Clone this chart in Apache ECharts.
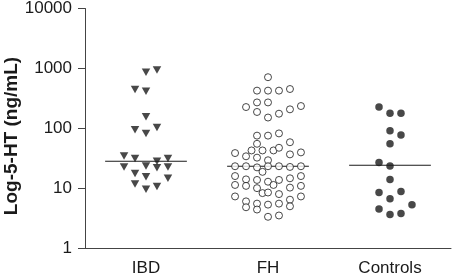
<!DOCTYPE html>
<html>
<head>
<meta charset="utf-8">
<script src="https://cdn.jsdelivr.net/npm/echarts@6/dist/echarts.min.js"></script>
<style>html,body{margin:0;padding:0;background:#fff}#c{width:453px;height:277px}</style>
</head>
<body>
<div id="c"></div>
<script>
// Categories and tick labels
const categories = ['IBD', 'FH', 'Controls'];
const yTicks = [1, 10, 100, 1000, 10000];

// Per-point values (ng/mL) and swarm slot (column)
const ibdValues = [861, 943, 442, 414, 155, 94, 82, 103, 34.3, 31.1, 28.1, 31.1, 22.6, 23.5, 21.8, 22.6, 17.6, 15.5, 14.6, 11.7, 9.6, 10.6];
const ibdSlots  = [0, 1, -1, 0, 0, -1, 0, 1, -2, -1, 1, 2, -2, 0, 1, 2, -1, 0, 2, -1, 0, 1];

const fhValues = [712,
  425, 425, 425, 452,
  226, 270, 187, 270, 151, 175, 207, 235,
  75.3, 75.3, 82,
  55, 58.4,
  38.5, 34, 42.6, 42.6, 42.6, 32.3, 47.2, 36.6, 39.5,
  29.2,
  23.2, 23.2, 22.2, 23.2, 23.2, 22.6, 23.2,
  18.7,
  15.9, 11.3, 14.0, 10.9, 13.7, 10.0, 12.8, 11.3, 13.7, 14.6, 10.2, 15.9, 10.9,
  8.26, 8.45,
  7.26, 6.01, 4.79, 5.51, 4.39, 5.30, 7.95, 5.51, 6.41, 4.97, 7.26,
  3.32, 3.49];
const fhSlots = [0,
  -1, 0, 1, 2,
  -2, -1, -1, 0, 0, 1, 2, 3,
  -1, 0, 1,
  -1, 2,
  -3, -2, -1.5, -0.5, 0.5, -1, 1, 2, 3,
  0,
  -3, -2, -1, 0, 1, 2, 3,
  -0.5,
  -3, -3, -2, -2, -1, -1, 0, 0.5, 1, 2, 2, 3, 3,
  -0.5, 0,
  -3, -2, -2, -1, -1, 0, 1, 1, 2, 2, 3,
  0, 1];

const ctrlValues = [226, 178, 178, 91, 77, 55, 26.7, 23.5, 14.0, 8.45, 8.78, 6.65, 4.5, 3.63, 3.77, 5.3];
const ctrlSlots  = [-1, 0, 1, 0, 1, 0, -1, 0, 0, -1, 1, 0, -1, 0, 1, 2];

// Medians
const medians = [28.1, 23.2, 24.1];

const SLOT = 0.09;      // swarm column width in category units
const HALF = 0.335;     // median line half width in category units

function pts(ci, vals, slots) {
  return vals.map((v, i) => [ci + slots[i] * SLOT, v]);
}

const FONT = 'Liberation Sans, Arial, sans-serif';
const INK = '#1a1a1a';

const chart = echarts.init(document.getElementById('c'), null, {renderer: 'canvas'});
const series = [];
medians.forEach((m, i) => {
  series.push({
    type: 'line', xAxisIndex: 1, yAxisIndex: 0, symbol: 'none', silent: true, z: 1,
    data: [[i - HALF, m], [i + HALF, m]],
    lineStyle: {color: INK, width: 1.2}
  });
});
series.push({
  type: 'scatter', xAxisIndex: 1, data: pts(0, ibdValues, ibdSlots), z: 3,
  symbol: 'triangle', symbolRotate: 180, symbolSize: [8.5, 7.5],
  itemStyle: {color: INK}
});
series.push({
  type: 'scatter', xAxisIndex: 1, data: pts(1, fhValues, fhSlots), z: 3,
  symbol: 'circle', symbolSize: 7,
  itemStyle: {color: '#fff', borderColor: INK, borderWidth: 1}
});
series.push({
  type: 'scatter', xAxisIndex: 1, data: pts(2, ctrlValues, ctrlSlots), z: 3,
  symbol: 'circle', symbolSize: 7.5,
  itemStyle: {color: INK}
});

chart.setOption({
  animation: false,
  backgroundColor: '#fff',
  grid: {left: 85, right: 2, top: 6, bottom: 28},
  xAxis: [{
    type: 'category', data: categories, boundaryGap: true,
    axisLine: {onZero: false, lineStyle: {color: '#444', width: 1}},
    axisTick: {alignWithLabel: true, length: 8, lineStyle: {color: '#444'}},
    axisLabel: {color: INK, fontSize: 17, fontFamily: FONT, margin: 12},
    splitLine: {show: false}
  }, {
    type: 'value', min: -0.5, max: 2.5, show: false
  }],
  yAxis: {
    type: 'log', logBase: 10, min: 1, max: 10000,
    axisLine: {show: true, onZero: false, lineStyle: {color: '#444', width: 1}},
    axisTick: {show: true, length: 7, lineStyle: {color: '#444'}},
    minorTick: {show: false},
    splitLine: {show: false},
    axisLabel: {color: INK, fontSize: 17, fontFamily: FONT, margin: 13,
      formatter: v => yTicks.includes(Math.round(v)) ? String(Math.round(v)) : ''}
  },
  graphic: [{
    type: 'text', rotation: Math.PI / 2,
    x: 12, y: 136,
    style: {text: 'Log-5-HT (ng/mL)', font: 'bold 19px ' + FONT, fill: INK,
      textAlign: 'center', textVerticalAlign: 'middle'}
  }],
  series: series
});
</script>
</body>
</html>
